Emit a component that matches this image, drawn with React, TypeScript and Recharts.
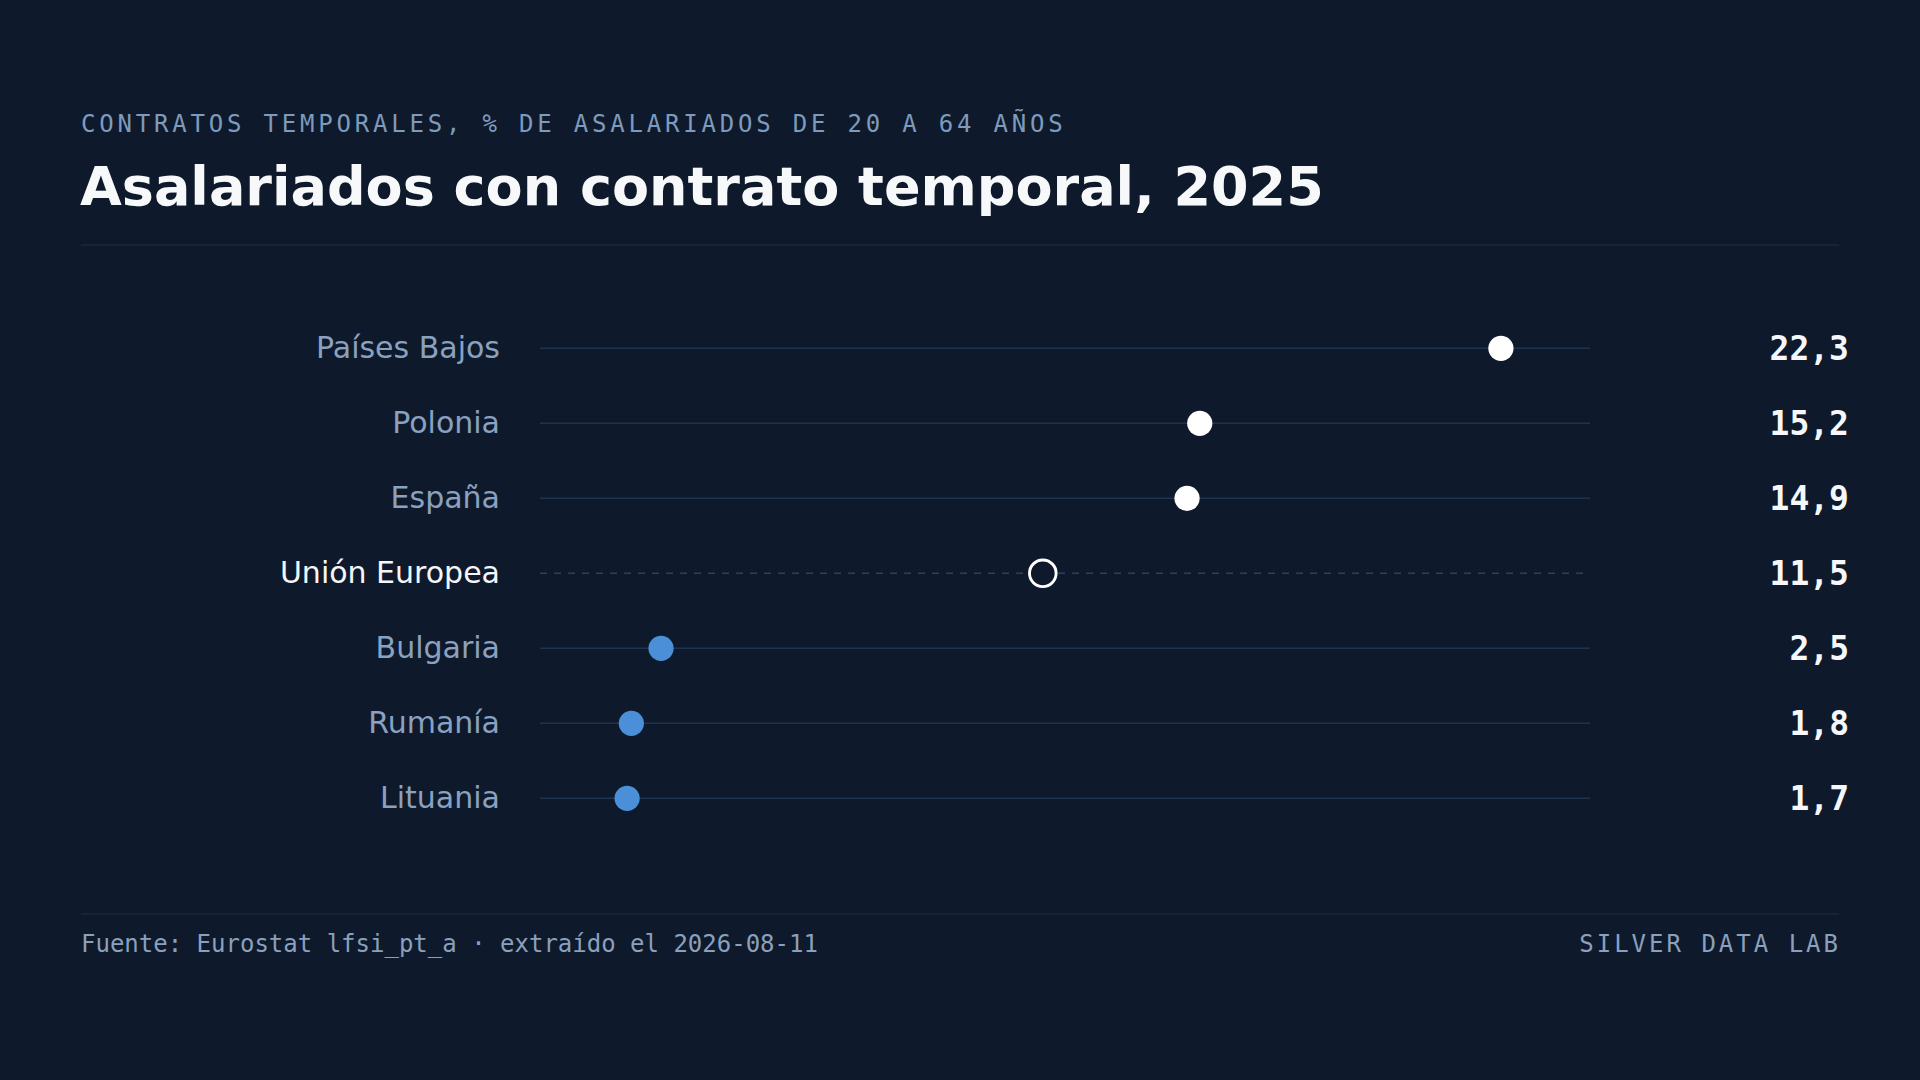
import React from "react";
import { ComposedChart, Scatter, XAxis, YAxis, ReferenceLine } from "recharts";

const countries = ["Países Bajos", "Polonia", "España", "Unión Europea", "Bulgaria", "Rumanía", "Lituania"];
const shares = [22.3, 15.2, 14.9, 11.5, 2.5, 1.8, 1.7];
const EU_NAME = "Unión Europea";
const xDomain = [0, 24.4];

const BG = "#0e1a2b";
const MUTED = "#8aa1c0";
const LINE = "#1e3350";
const BLUE = "#4a8fd8";

const rows = countries.map((name, i) => ({ name, value: shares[i] }));
const euValue = shares[countries.indexOf(EU_NAME)];

const fmt = (v: number) => v.toFixed(1).replace(".", ",");

function CountryTick(props: any) {
  const { x, y, payload } = props;
  const isEu = payload.value === EU_NAME;
  return (
    <text
      x={x}
      y={y}
      dy={10}
      textAnchor="end"
      fontFamily="DejaVu Sans"
      fontSize={30}
      fill={isEu ? "#f4f6fa" : MUTED}
    >
      {payload.value}
    </text>
  );
}

function ValueTick(props: any) {
  const { x, y, payload } = props;
  const row = rows.find((r) => r.name === payload.value);
  return (
    <text
      x={x}
      y={y}
      dy={12}
      textAnchor="end"
      fontFamily="DejaVu Sans Mono"
      fontWeight="bold"
      fontSize={33}
      fill="#f5f7fa"
    >
      {row ? fmt(row.value) : ""}
    </text>
  );
}

function Dot(props: any) {
  const { cx, cy, payload } = props;
  if (payload.name === EU_NAME) {
    return <circle cx={cx} cy={cy} r={13.3} fill={BG} stroke="#ffffff" strokeWidth={2.9} />;
  }
  const color = payload.value > euValue ? "#ffffff" : BLUE;
  return <circle cx={cx} cy={cy} r={12.6} fill={color} />;
}

export default function App() {
  return (
    <div
      style={{
        position: "absolute",
        left: 0,
        top: 0,
        width: 1920,
        height: 1080,
        background: BG,
        overflow: "hidden",
      }}
    >
      <svg width={1920} height={1080} style={{ position: "absolute", left: 0, top: 0 }}>
        <text
          x={81}
          y={132}
          fontFamily="DejaVu Sans Mono"
          fontSize={24}
          letterSpacing={3.8}
          fill="#7e9abd"
        >
          CONTRATOS TEMPORALES, % DE ASALARIADOS DE 20 A 64 AÑOS
        </text>
        <text x={80} y={205} fontFamily="DejaVu Sans" fontWeight="bold" fontSize={54} fill="#f7f8fa">
          Asalariados con contrato temporal, 2025
        </text>
        <line x1={81} x2={1839} y1={245} y2={245} stroke="#18283e" strokeWidth={1.5} />
        <line x1={81} x2={1839} y1={914} y2={914} stroke="#18283e" strokeWidth={1.5} />
        <text x={81} y={951.5} fontFamily="DejaVu Sans Mono" fontSize={24} fill="#8aa0bd">
          Fuente: Eurostat lfsi_pt_a · extraído el 2026-08-11
        </text>
        <text
          x={1841}
          y={951.5}
          textAnchor="end"
          fontFamily="DejaVu Sans Mono"
          fontSize={24}
          letterSpacing={3}
          fill="#8aa0bd"
        >
          SILVER DATA LAB
        </text>
      </svg>
      <div style={{ position: "absolute", left: 0, top: 0 }}>
        <ComposedChart
          width={1920}
          height={1080}
          data={rows}
          layout="vertical"
          margin={{ top: 348.3, bottom: 281.7, left: 440, right: 230 }}
        >
          <XAxis type="number" dataKey="value" domain={xDomain} hide padding={{ left: 15, right: 0 }} allowDataOverflow />
          <YAxis
            yAxisId="left"
            type="category"
            dataKey="name"
            width={100}
            axisLine={false}
            tickLine={false}
            tickSize={0}
            tickMargin={40}
            interval={0}
            tick={<CountryTick />}
          />
          <YAxis
            yAxisId="right"
            orientation="right"
            type="category"
            dataKey="name"
            width={100}
            axisLine={false}
            tickLine={false}
            tickSize={0}
            tickMargin={259}
            interval={0}
            tick={<ValueTick />}
          />
          {countries.map((name) => (
            <ReferenceLine
              key={name}
              yAxisId="left"
              y={name}
              ifOverflow="visible"
              stroke={name === EU_NAME ? "#2a405e" : LINE}
              strokeWidth={1.6}
              strokeDasharray={name === EU_NAME ? "7 7" : undefined}
            />
          ))}
          <Scatter yAxisId="right" dataKey="value" isAnimationActive={false} shape={() => <g />} />
          <Scatter yAxisId="left" dataKey="value" isAnimationActive={false} shape={<Dot />} />
        </ComposedChart>
      </div>
    </div>
  );
}
